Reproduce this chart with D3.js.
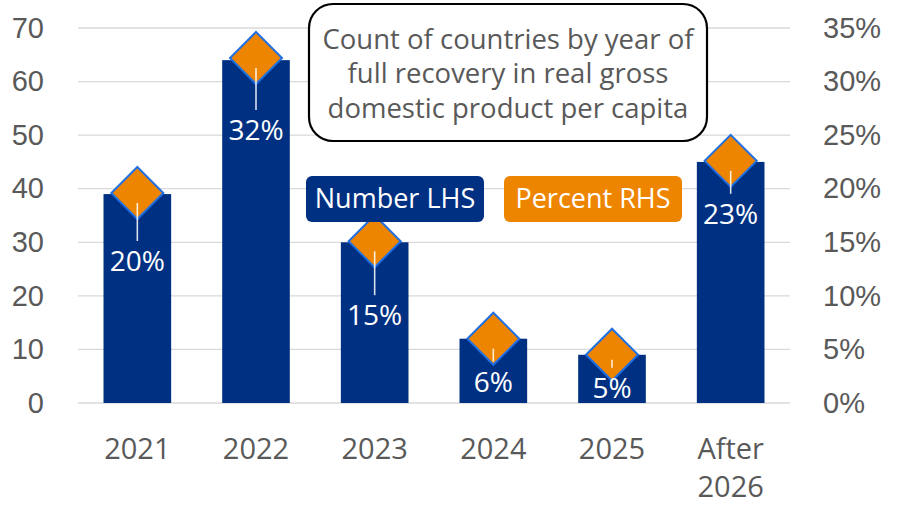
<!DOCTYPE html>
<html>
<head>
<meta charset="utf-8">
<script src="https://cdn.jsdelivr.net/npm/d3@7"></script>
<style>
  body { margin: 0; background: #fff; }
  svg { display: block; font-family: "Open Sans", "Noto Sans", sans-serif; }
</style>
</head>
<body>
<div id="chart"></div>
<script>
const categories = ["2021", "2022", "2023", "2024", "2025", "After 2026"];
const counts = [39, 64, 30, 12, 9, 45];
const percents = [19.6, 32.2, 15.1, 6.0, 4.5, 22.6];
const percentLabels = ["20%", "32%", "15%", "6%", "5%", "23%"];
const leftTicks = [0, 10, 20, 30, 40, 50, 60, 70];
const rightTicks = [0, 5, 10, 15, 20, 25, 30, 35];
const titleLines = ["Count of countries by year of", "full recovery in real gross", "domestic product per capita"];

// manual label offsets below each diamond (px), like the hand-placed labels
const labelDy = [68, 72, 74, 43, 33, 53];

const W = 901, H = 506;
const margin = { top: 28, right: 111, bottom: 103, left: 78 };
const blue = "#003082", orange = "#EE8500", grey = "#595959";

const svg = d3.select("#chart").append("svg")
  .attr("width", W).attr("height", H);

const x = d3.scaleBand()
  .domain(categories)
  .range([margin.left, W - margin.right])
  .paddingInner(0.43).paddingOuter(0.215);

const yL = d3.scaleLinear().domain([0, 70]).range([H - margin.bottom, margin.top]);
const yR = d3.scaleLinear().domain([0, 35]).range([H - margin.bottom, margin.top]);

// gridlines
svg.append("g")
  .selectAll("line")
  .data(leftTicks)
  .join("line")
  .attr("x1", margin.left).attr("x2", W - margin.right)
  .attr("y1", d => yL(d)).attr("y2", d => yL(d))
  .attr("stroke", "#d9d9d9").attr("stroke-width", 1.3);

// left axis
const axL = svg.append("g")
  .attr("transform", `translate(${margin.left},0)`)
  .call(d3.axisLeft(yL).tickValues(leftTicks).tickSize(0).tickPadding(34));
axL.select(".domain").remove();
axL.selectAll("text").attr("fill", grey).style("font-size", "29px")
  .attr("font-family", null);

// right axis
const axR = svg.append("g")
  .attr("transform", `translate(${W - margin.right},0)`)
  .call(d3.axisRight(yR).tickValues(rightTicks).tickSize(0).tickPadding(33)
    .tickFormat(d => d + "%"));
axR.select(".domain").remove();
axR.selectAll("text").attr("fill", grey).style("font-size", "29px")
  .attr("font-family", null);

// x labels
const xLab = svg.append("g");
categories.forEach(c => {
  const words = c === "After 2026" ? ["After", "2026"] : [c];
  words.forEach((w, i) => {
    xLab.append("text")
      .attr("x", x(c) + x.bandwidth() / 2)
      .attr("y", 459 + i * 38)
      .attr("text-anchor", "middle")
      .attr("fill", grey)
      .style("font-size", "29px")
      .text(w);
  });
});

// bars
svg.append("g")
  .selectAll("rect")
  .data(counts)
  .join("rect")
  .attr("x", (d, i) => x(categories[i]))
  .attr("width", x.bandwidth())
  .attr("y", d => yL(d))
  .attr("height", d => yL(0) - yL(d))
  .attr("fill", blue);

// diamonds
const r = 26;
const cx = i => x(categories[i]) + x.bandwidth() / 2;
svg.append("g")
  .selectAll("path")
  .data(percents)
  .join("path")
  .attr("transform", (d, i) => `translate(${cx(i)},${yR(d)})`)
  .attr("d", `M0,${-r}L${r},0L0,${r}L${-r},0Z`)
  .attr("fill", orange)
  .attr("stroke", "#1f6fe5")
  .attr("stroke-width", 2);

// leader lines and labels
const lab = svg.append("g");
percents.forEach((p, i) => {
  const py = yR(p);
  const ly = py + labelDy[i];
  const y2 = ly - 20;
  const y1 = Math.min(py + 10, y2 - 8);
  lab.append("line")
    .attr("x1", cx(i)).attr("x2", cx(i))
    .attr("y1", y1).attr("y2", y2)
    .attr("stroke", "#fff").attr("stroke-opacity", 0.85).attr("stroke-width", 1.6);
  lab.append("text")
    .attr("x", cx(i)).attr("y", ly)
    .attr("dy", "0.35em")
    .attr("text-anchor", "middle")
    .attr("fill", "#fff")
    .style("font-size", "28px")
    .text(percentLabels[i]);
});

// title box
const tb = svg.append("g");
tb.append("rect")
  .attr("x", 309).attr("y", 4).attr("width", 398).attr("height", 137)
  .attr("rx", 24).attr("fill", "#fff").attr("stroke", "#000").attr("stroke-width", 2.2);
titleLines.forEach((t, i) => {
  tb.append("text")
    .attr("x", 508).attr("y", 39 + i * 34.5)
    .attr("dy", "0.35em")
    .attr("text-anchor", "middle")
    .attr("fill", grey)
    .style("font-size", "27.5px")
    .text(t);
});

// legend boxes
const legend = [
  { label: "Number LHS", color: blue, x: 306 },
  { label: "Percent RHS", color: orange, x: 504 }
];
legend.forEach(l => {
  svg.append("rect")
    .attr("x", l.x).attr("y", 176).attr("width", 178).attr("height", 46)
    .attr("rx", 6).attr("fill", l.color);
  svg.append("text")
    .attr("x", l.x + 89).attr("y", 199)
    .attr("dy", "0.35em")
    .attr("text-anchor", "middle")
    .attr("fill", "#fff")
    .style("font-size", "27px")
    .text(l.label);
});
</script>
</body>
</html>
